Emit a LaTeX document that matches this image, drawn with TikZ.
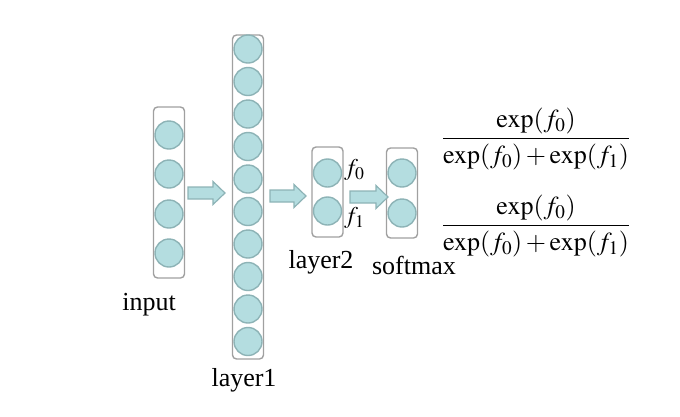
\documentclass[tikz,border=0pt]{standalone}
\usepackage{amsmath}
\usepackage{mathptmx}
\usepackage{fontspec}
\setmainfont{Liberation Serif}
\definecolor{cfill}{HTML}{B4DDE0}
\definecolor{cdraw}{HTML}{8DB3B6}
\definecolor{bdraw}{HTML}{A0A0A0}
\tikzset{
  layerbox/.style={draw=bdraw, line width=1.4pt, fill=white, rounded corners=4pt, minimum width=31pt, inner sep=0pt},
  neuron/.style={circle, draw=cdraw, line width=1.4pt, fill=cfill, minimum size=28pt, inner sep=0pt},
  blockarrow/.style={draw=cdraw, line width=1.2pt, fill=cfill, line join=miter},
  lbl/.style={font=\fontsize{26}{30}\selectfont, inner sep=0pt},
  flbl/.style={font=\fontsize{24}{28}\selectfont, inner sep=0pt},
  frac/.style={font=\fontsize{26}{30}\selectfont, inner sep=0pt}
}
\begin{document}
\begin{tikzpicture}[x=1pt,y=-1pt]
\useasboundingbox (0,0) rectangle (680,416);
% boxes
\node[layerbox, minimum height=171pt] (inbox) at (169,192.5) {};
\node[layerbox, minimum height=324pt] (l1box) at (248,197) {};
\node[layerbox, minimum height=90pt] (l2box) at (327.5,192) {};
\node[layerbox, minimum height=90pt] (smbox) at (402,193) {};
% input neurons
\foreach \y [count=\i] in {135,174,214,253} \node[neuron] (in\i) at (169,\y) {};
% layer1 neurons
\foreach \i in {0,...,9} \node[neuron] (h\i) at (248,{49+32.5*\i}) {};
% layer2 neurons
\node[neuron] (f0) at (327.5,173) {};
\node[neuron] (f1) at (327.5,211) {};
% softmax neurons
\node[neuron] (s0) at (402,173) {};
\node[neuron] (s1) at (402,213) {};
% arrows
\coordinate (a1) at (188,193);
\coordinate (a2) at (270,196);
\coordinate (a3) at (350,197);
\foreach \a/\len in {a1/25,a2/24,a3/26}
  \draw[blockarrow] (\a) ++(0,-6) -- ++(\len,0) -- ++(0,-5.5) -- ++(12,11.5) -- ++(-12,11.5) -- ++(0,-5.5) -- ++(-\len,0) -- cycle;
% labels
\node[lbl] (tin) at (149,305) {input};
\node[lbl] (tl1) at (244,380) {layer1};
\node[lbl] (tl2) at (321,262) {layer2};
\node[lbl] (tsm) at (414,265) {softmax};
\node[flbl, anchor=west] (tf0) at (344,170) {$f_0$};
\node[flbl, anchor=west] (tf1) at (344,218) {$f_1$};
% formulas
\node[frac] (q0) at (536,139) {$\dfrac{\exp(f_0)}{\exp(f_0)+\exp(f_1)}$};
\node[frac] (q1) at (536,226) {$\dfrac{\exp(f_0)}{\exp(f_0)+\exp(f_1)}$};
\end{tikzpicture}
\end{document}
